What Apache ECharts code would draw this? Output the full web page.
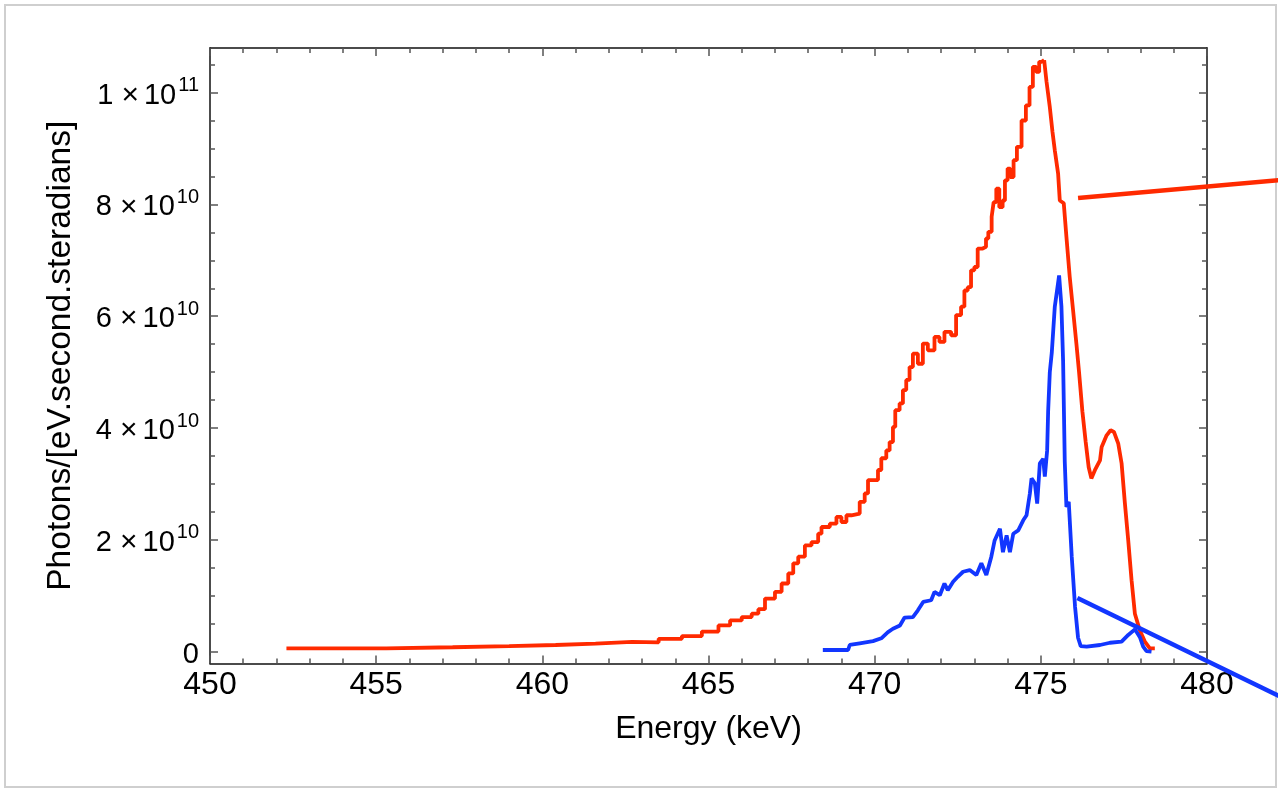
<!DOCTYPE html>
<html><head><meta charset="utf-8">
<script src="https://cdn.jsdelivr.net/npm/echarts@6/dist/echarts.min.js"></script>
<style>html,body{margin:0;padding:0;background:#fff}#c{width:1278px;height:790px}</style>
</head><body><div id="c"></div>
<script>
// Energy in keV, values in units of 1e10 photons/[eV.second.steradians]
const xTickValues = [450, 455, 460, 465, 470, 475, 480];
const yTickValues = [0, 2, 4, 6, 8, 10];
const yTickLabels = ['0', '2×10^10', '4×10^10', '6×10^10', '8×10^10', '1×10^11'];
const yMinorValues = [0.5, 1, 1.5, 2.5, 3, 3.5, 4.5, 5, 5.5, 6.5, 7, 7.5, 8.5, 9, 9.5, 10.5];

// red spectrum, histogram part (bin start, value)
const redSteps = [
  [452.3,0.06],[455.3,0.08],[457.3,0.10],[459.0,0.12],[460.4,0.145],[461.6,0.175],[462.7,0.168],
  [463.5,0.23],[464.2,0.28],[464.8,0.36],[465.3,0.47],[465.65,0.56],[466.0,0.62],[466.3,0.68],
  [466.5,0.76],[466.7,0.95],[467.0,1.07],[467.2,1.22],[467.4,1.40],[467.55,1.58],[467.7,1.70],
  [467.9,1.90],[468.1,1.96],[468.3,2.11],[468.4,2.23],[468.65,2.29],[468.85,2.41],[469.0,2.32],
  [469.15,2.44],[469.3,2.47],[469.55,2.68],[469.7,2.83],[469.8,3.07],[470.1,3.25],[470.2,3.46],
  [470.35,3.60],[470.45,3.75],[470.55,4.02],[470.62,4.32],[470.75,4.44],[470.85,4.68],[470.95,4.86],
  [471.05,5.09],[471.15,5.33],[471.3,5.15],[471.45,5.51],[471.6,5.39],[471.8,5.63],[471.95,5.54],
  [472.1,5.72],[472.3,5.66],[472.45,6.02],[472.6,6.17],[472.7,6.46],[472.8,6.52],[472.9,6.82],
  [473.0,6.88],[473.1,7.21],[473.25,7.24],[473.35,7.39],[473.42,7.51],[473.52,7.78],[473.58,8.04],
  [473.66,8.28],[473.75,7.95],[473.85,8.07],[473.92,8.43],[474.0,8.64],[474.08,8.49],[474.18,8.79],
  [474.28,9.03],[474.42,9.50],[474.55,9.77],[474.66,10.10],[474.76,10.46],[474.86,10.37],
  [474.95,10.55],[475.03,10.58],[475.1,10.58]
];
// red spectrum, falling edge and secondary bump
const redTail = [
  [475.1,10.58],[475.17,10.2],[475.27,9.74],[475.35,9.3],[475.42,8.97],[475.52,8.55],[475.57,8.07],
  [475.69,8.02],[475.77,7.42],[475.87,6.70],[475.97,6.11],[476.07,5.51],[476.15,5.0],[476.25,4.3],
  [476.35,3.75],[476.44,3.3],[476.52,3.10],[476.63,3.25],[476.78,3.42],[476.83,3.66],[476.98,3.87],
  [477.1,3.96],[477.2,3.93],[477.33,3.72],[477.43,3.37],[477.53,2.65],[477.63,1.99],[477.73,1.28],
  [477.83,0.68],[477.98,0.38],[478.13,0.18],[478.28,0.06],[478.43,0.06]
];
// blue spectrum
const blueLine = [
  [468.44,0.03],[469.2,0.03],[469.25,0.12],[469.55,0.15],[469.95,0.19],[470.2,0.24],[470.4,0.35],
  [470.55,0.41],[470.76,0.47],[470.9,0.61],[471.15,0.62],[471.3,0.74],[471.46,0.89],[471.7,0.92],
  [471.8,1.07],[471.96,1.01],[472.1,1.22],[472.2,1.10],[472.36,1.25],[472.5,1.34],[472.66,1.43],
  [472.86,1.46],[473.06,1.37],[473.21,1.58],[473.36,1.37],[473.51,1.70],[473.61,1.99],[473.77,2.20],
  [473.86,1.78],[473.97,2.08],[474.07,1.78],[474.17,2.11],[474.32,2.17],[474.47,2.35],[474.57,2.44],
  [474.67,2.83],[474.72,3.10],[474.82,3.01],[474.89,2.65],[474.97,3.37],[475.07,3.45],[475.12,3.13],
  [475.19,3.60],[475.22,4.3],[475.27,5.0],[475.33,5.35],[475.42,6.17],[475.55,6.73],[475.62,6.17],
  [475.67,5.2],[475.72,3.4],[475.77,2.59],[475.84,2.68],[475.93,1.7],[476.03,0.8],[476.12,0.25],
  [476.2,0.10],[476.38,0.09],[476.78,0.12],[477.08,0.16],[477.43,0.18],[477.63,0.30],[477.83,0.40],
  [477.98,0.26],[478.08,0.09],[478.18,0.01],[478.33,0.0]
];
// straight pointer segments (run past the plot frame)
const redPointer = [[476.12,8.115],[482.3,8.44]];
const bluePointer = [[476.1,0.962],[482.3,-0.83]];

const RED = '#ff2a00', BLUE = '#1236ff';
const FONT = 'Liberation Sans';
const Y_MIN = -0.211, Y_MAX = 10.797;

function yFmt(v) {
  const i = yTickValues.findIndex(t => Math.abs(t - v) < 1e-9);
  if (i < 0) return '';
  const s = yTickLabels[i];
  if (s.indexOf('^') < 0) return '{m|' + s + '}';
  const p = s.split('^');
  const q = p[0].split('×');
  return '{m|' + q[0] + '}{x|×}{m|' + q[1] + '}{e|' + p[1] + '}';
}

const tickStyle = { color: '#555', width: 1.5 };
function xAx(pos, labels) {
  return {
    type: 'value', position: pos, min: 450, max: 480, interval: 5,
    axisLine: { show: true, onZero: false, lineStyle: { color: '#111', width: 1.5 } },
    axisTick: { show: true, inside: true, length: 8, lineStyle: tickStyle },
    minorTick: { show: true, splitNumber: 5, length: 5, lineStyle: tickStyle },
    splitLine: { show: false }, minorSplitLine: { show: false },
    axisLabel: { show: labels, fontFamily: FONT, fontSize: 32, color: '#000', margin: 6 },
    name: labels ? 'Energy (keV)' : '', nameLocation: 'middle', nameGap: 50,
    nameTextStyle: { fontFamily: FONT, fontSize: 32, color: '#000' }
  };
}
function yAx(pos, major, withLabels) {
  const vals = major ? yTickValues : yMinorValues;
  return {
    type: 'value', position: pos, offset: 0, min: Y_MIN, max: Y_MAX,
    axisLine: { show: major, onZero: false, lineStyle: { color: '#111', width: 1.5 } },
    axisTick: { show: true, inside: true, length: major ? 8 : 5, customValues: vals, lineStyle: tickStyle },
    splitLine: { show: false },
    axisLabel: withLabels ? {
      show: true, customValues: yTickValues, formatter: yFmt, margin: 11,
      rich: {
        m: { fontFamily: FONT, fontSize: 29, color: '#000', lineHeight: 34, padding: [6, 0, 0, 0] },
        x: { fontFamily: FONT, fontSize: 30, color: '#000', lineHeight: 34, padding: [6, 5, 0, 8] },
        e: { fontFamily: FONT, fontSize: 20, color: '#000', verticalAlign: 'top', lineHeight: 20, padding: [0, 0, 0, 2] }
      }
    } : { show: false },
    name: withLabels ? 'Photons/[eV.second.steradians]' : '', nameLocation: 'middle', nameGap: 132, nameRotate: 90,
    nameTextStyle: { fontFamily: FONT, fontSize: 33.5, color: '#000' }
  };
}

const chart = echarts.init(document.getElementById('c'), null, { renderer: 'canvas' });
chart.setOption({
  animation: false,
  backgroundColor: '#fff',
  grid: { left: 210, top: 48, width: 997, height: 615.5, containLabel: false },
  xAxis: [xAx('bottom', true), xAx('top', false)],
  yAxis: [yAx('left', true, true), yAx('left', false, false), yAx('right', true, false), yAx('right', false, false)],
  series: [
    { type: 'line', data: redSteps, step: 'end', showSymbol: false, lineStyle: { color: RED, width: 3.8 }, z: 3 },
    { type: 'line', data: redTail, showSymbol: false, lineStyle: { color: RED, width: 3.8 }, z: 3 },
    { type: 'line', data: blueLine, showSymbol: false, lineStyle: { color: BLUE, width: 3.8 }, z: 4 }
  ]
});
// pointer segments: data coordinates converted through the chart's own axes
function seg(pts, color) {
  const a = chart.convertToPixel({ xAxisIndex: 0, yAxisIndex: 0 }, pts[0]);
  const b = chart.convertToPixel({ xAxisIndex: 0, yAxisIndex: 0 }, pts[1]);
  return { type: 'line', z: 50, shape: { x1: a[0], y1: a[1], x2: b[0], y2: b[1] },
    style: { stroke: color, lineWidth: 4.5 } };
}
chart.setOption({
  graphic: [
    { type: 'rect', z: -10, shape: { x: 5, y: 5, width: 1271, height: 782 },
      style: { fill: 'none', stroke: '#cfcfcf', lineWidth: 2 } },
    seg(redPointer, RED), seg(bluePointer, BLUE)
  ]
});
</script></body></html>
